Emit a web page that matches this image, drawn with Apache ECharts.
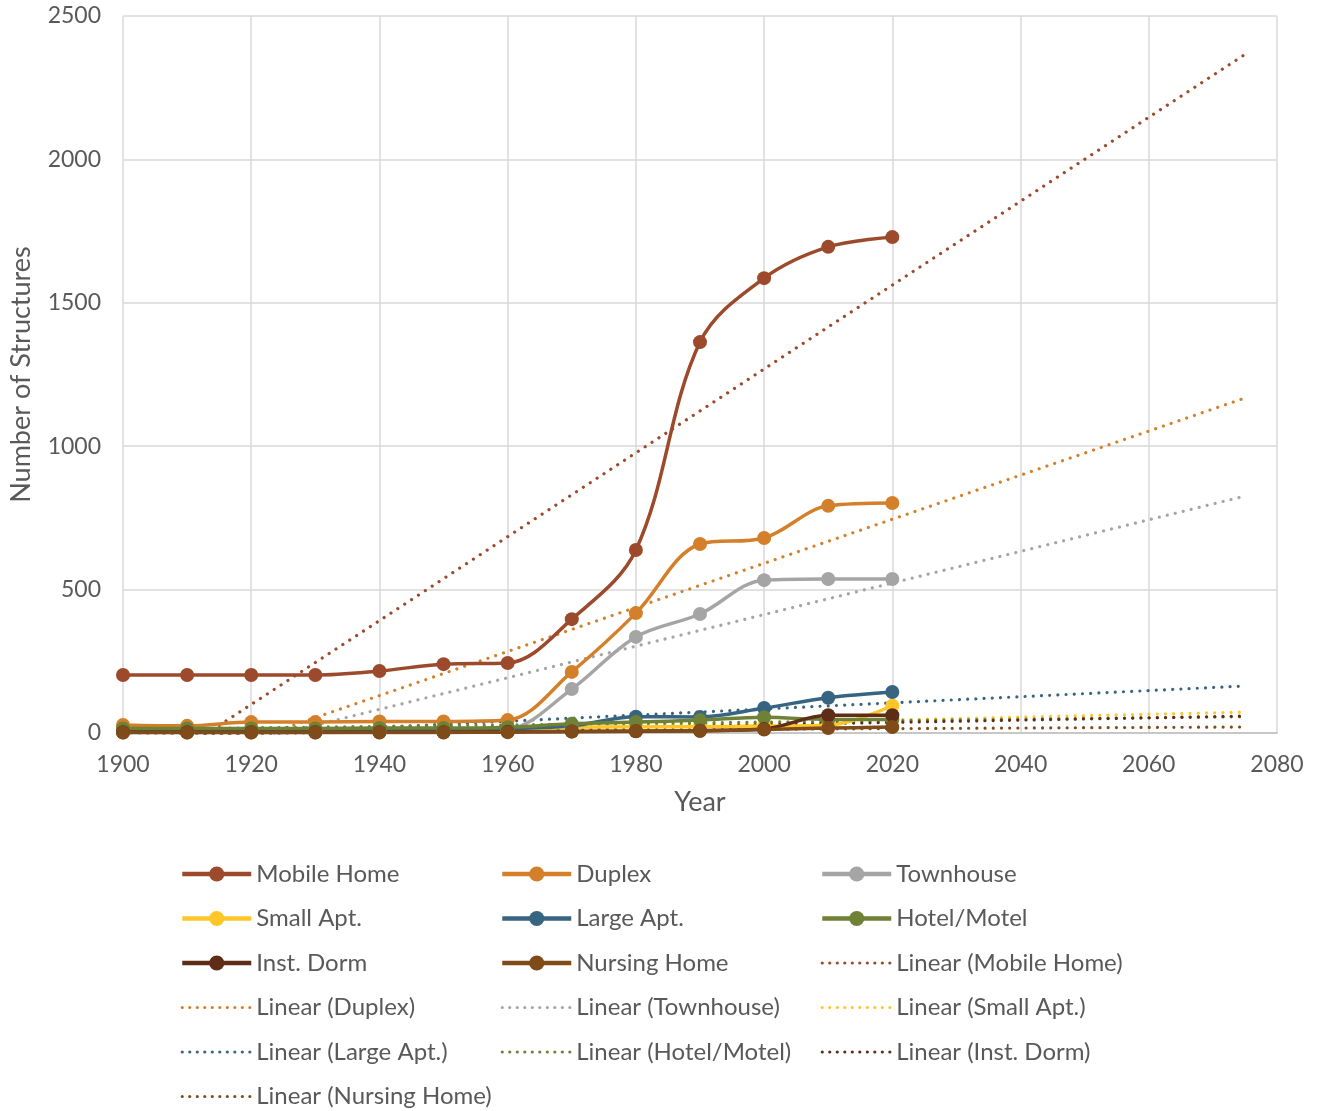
<!DOCTYPE html>
<html><head><meta charset="utf-8">
<script src="https://cdn.jsdelivr.net/npm/echarts@6/dist/echarts.min.js"></script>
<style>html,body{margin:0;padding:0;background:#fff}#c{width:1321px;height:1111px}</style>
</head><body><div id="c"></div>
<script>
const years = [1900,1910,1920,1930,1940,1950,1960,1970,1980,1990,2000,2010,2020];
const mobileHome  = [202,202,202,202,216,240,244,397,638,1363,1586,1695,1729];
const duplex      = [28,25,38,38,40,40,45,213,418,659,680,792,802];
const townhouse   = [2,2,2,2,3,3,12,153,335,415,533,537,537];
const smallApt    = [6,6,6,6,6,6,8,20,22,22,24,27,95];
const largeApt    = [8,8,8,8,9,10,15,25,57,56,87,123,143];
const hotelMotel  = [16,16,16,16,17,17,20,32,38,45,55,47,47];
const instDorm    = [3,3,3,3,3,3,4,5,6,8,14,62,62];
const nursingHome = [2,2,2,2,2,2,3,5,7,8,12,17,21];
const trendYears = [1900,2075];
const trendMobileHome  = [-193,2366];
const trendDuplex      = [-177,1168];
const trendTownhouse   = [-138,826];
const trendSmallApt    = [-14,73];
const trendLargeApt    = [-23,164];
const trendHotelMotel  = [13,57];
const trendInstDorm    = [-11,59];
const trendNursingHome = [3,21];

const names = ['Mobile Home','Duplex','Townhouse','Small Apt.','Large Apt.','Hotel/Motel','Inst. Dorm','Nursing Home'];
const colors = ['#9C4A2B','#D4802A','#A5A5A5','#FFC629','#376480','#6E8136','#5E2D17','#7F4B19'];
const dataSets = [mobileHome,duplex,townhouse,smallApt,largeApt,hotelMotel,instDorm,nursingHome];
const trendSets = [trendMobileHome,trendDuplex,trendTownhouse,trendSmallApt,trendLargeApt,trendHotelMotel,trendInstDorm,trendNursingHome];

const series = [];
names.forEach((n,i)=>{
  series.push({name:n,type:'line',smooth:0.35,data:years.map((y,k)=>[y,dataSets[i][k]]),
    symbol:'circle',symbolSize:14,color:colors[i],
    lineStyle:{width:3.5,color:colors[i]},itemStyle:{color:colors[i]},z:3});
});
names.forEach((n,i)=>{
  series.push({name:'Linear ('+n+')',type:'line',data:trendYears.map((y,k)=>[y,trendSets[i][k]]),
    symbol:'none',color:colors[i],clip:true,
    lineStyle:{width:3.2,color:colors[i],type:[0.01,8.2],cap:'round'},z:2});
});

const font = 'Lato, "Open Sans", sans-serif';
const txt = {color:'#595959',fontFamily:font,fontSize:23};
const col1 = ['Mobile Home','Small Apt.','Inst. Dorm','Linear (Duplex)','Linear (Large Apt.)','Linear (Nursing Home)'];
const col2 = ['Duplex','Large Apt.','Nursing Home','Linear (Townhouse)','Linear (Hotel/Motel)'];
const col3 = ['Townhouse','Hotel/Motel','Linear (Mobile Home)','Linear (Small Apt.)','Linear (Inst. Dorm)'];
function legItem(n){
  if (n.indexOf('Linear')===0) return {name:n,itemStyle:{opacity:0},lineStyle:{width:3.2,type:[0.01,7.5],cap:'round'}};
  return {name:n,lineStyle:{width:4.5}};
}
function leg(data,left){
  return {data:data.map(legItem),left:left,top:862,height:250,padding:0,orient:'vertical',itemGap:20.5,itemWidth:69,itemHeight:19,
    textStyle:{color:'#595959',fontFamily:font,fontSize:24,lineHeight:24,padding:[0,0,0,0]},selectedMode:false};
}
const chart = echarts.init(document.getElementById('c'));
chart.setOption({
  animation:false,
  backgroundColor:'#fff',
  grid:{left:123,right:44,top:16,bottom:378},
  legend:[leg(col1,180),leg(col2,500),leg(col3,820)],
  xAxis:{type:'value',min:1900,max:2080,interval:20,name:'Year',nameLocation:'middle',nameGap:56,
    nameTextStyle:Object.assign({},txt,{fontSize:27}),
    axisLabel:Object.assign({},txt,{margin:20,formatter:v=>String(v)}),
    axisLine:{show:true,lineStyle:{color:'#BFBFBF',width:1.5}},axisTick:{show:false},
    splitLine:{show:true,lineStyle:{color:'#D9D9D9',width:1.5}}},
  yAxis:{type:'value',min:0,max:2500,interval:500,name:'Number of Structures',nameLocation:'middle',nameGap:88,
    nameRotate:90,nameTextStyle:Object.assign({},txt,{fontSize:27}),
    axisLabel:Object.assign({},txt,{margin:22,formatter:v=>String(v)}),
    axisLine:{show:false},axisTick:{show:false},
    splitLine:{show:true,lineStyle:{color:'#D9D9D9',width:1.5}}},
  series:series
});
</script></body></html>
